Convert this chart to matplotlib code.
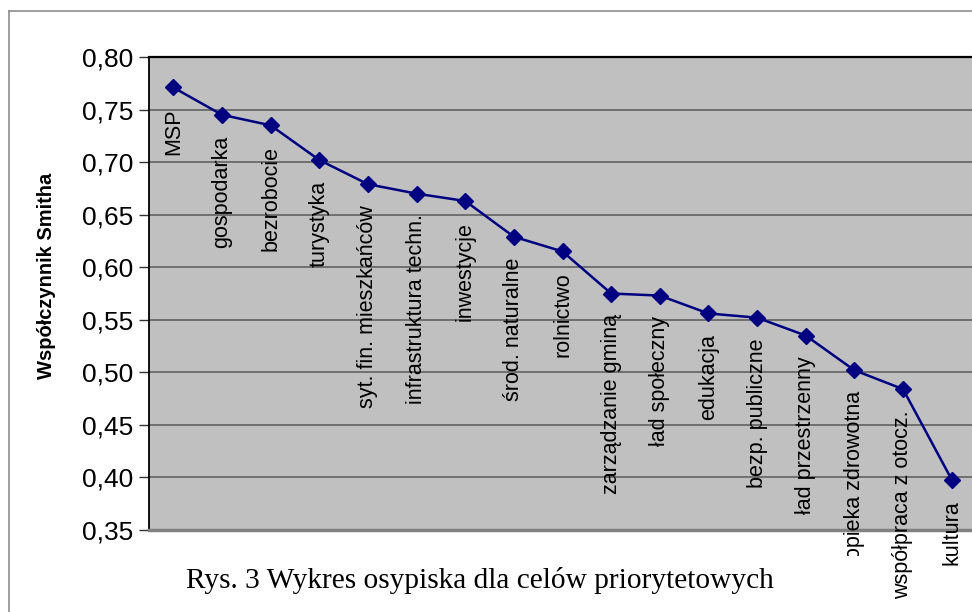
import matplotlib
matplotlib.use("Agg")
import matplotlib.pyplot as plt
from matplotlib.patches import Rectangle
from matplotlib.lines import Line2D
from matplotlib.ticker import FuncFormatter

plt.rcParams['font.family'] = ['Liberation Sans', 'DejaVu Sans']

categories = ["MSP", "gospodarka", "bezrobocie", "turystyka", "syt. fin. mieszkańców",
              "infrastruktura techn.", "inwestycje", "środ. naturalne", "rolnictwo",
              "zarządzanie gminą", "ład społeczny", "edukacja", "bezp. publiczne",
              "ład przestrzenny", "opieka zdrowotna", "współpraca z otocz.", "kultura"]
values = [0.771, 0.745, 0.735, 0.702, 0.679, 0.670, 0.663, 0.629, 0.615,
          0.575, 0.573, 0.556, 0.552, 0.535, 0.502, 0.484, 0.398]
y_ticks = [0.35, 0.40, 0.45, 0.50, 0.55, 0.60, 0.65, 0.70, 0.75, 0.80]
ylabel = "Współczynnik Smitha"
caption = "Rys. 3 Wykres osypiska dla celów priorytetowych"

W, H = 972, 612
fig = plt.figure(figsize=(W / 100, H / 100), dpi=100)
fig.patch.set_facecolor("white")

# outer frame (right/bottom edges fall outside the image)
fig.add_artist(Line2D([9 / W, 9 / W], [0, 1 - 11 / H], transform=fig.transFigure,
                      color="#8c8c8c", lw=1.2))
fig.add_artist(Line2D([9 / W, 1], [1 - 11 / H, 1 - 11 / H], transform=fig.transFigure,
                      color="#8c8c8c", lw=1.2))

left, right, top, bottom = 149, 976, 57, 530
ax = fig.add_axes([left / W, 1 - bottom / H, (right - left) / W, (bottom - top) / H])
ax.set_facecolor("#c0c0c0")
x = list(range(len(categories)))
ax.set_xlim(-0.5, len(categories) - 0.5)
ax.set_ylim(y_ticks[0], y_ticks[-1])
ax.set_yticks(y_ticks)
ax.yaxis.set_major_formatter(FuncFormatter(lambda v, p: f"{v:.2f}".replace(".", ",")))
ax.set_xticks([])
ax.grid(axis="y", color="#5a5a5a", lw=1.1)
ax.set_axisbelow(True)
ax.spines["right"].set_visible(False)
ax.spines["top"].set_color("black")
ax.spines["top"].set_linewidth(1.6)
ax.spines["left"].set_color("black")
ax.spines["left"].set_linewidth(1.3)
ax.spines["bottom"].set_color("#808080")
ax.spines["bottom"].set_linewidth(2.5)
ax.tick_params(axis="y", length=7, width=1, color="#333333", labelsize=19, pad=4)
ax.set_ylabel(ylabel, fontsize=14.5, fontweight="bold")
ax.yaxis.set_label_coords((56 - left) / (right - left), (bottom - 276) / (bottom - top))

ax.plot(x, values, color="#000080", lw=1.8, marker="D", markersize=8,
        markerfacecolor="#000080", markeredgecolor="#000080", zorder=3, clip_on=False)

for xi, (c, v) in enumerate(zip(categories, values)):
    ax.annotate(c, (xi, v), xytext=(0, -15), textcoords="offset points",
                rotation=90, ha="center", va="top", fontsize=15.5,
                annotation_clip=False, zorder=4)

# white caption box (covers part of one label as in the source)
fig.add_artist(Rectangle((150 / W, 0), 720 / W, 1 - 556 / H, transform=fig.transFigure,
                         facecolor="white", edgecolor="none", zorder=5))
fig.text(480 / W, 1 - 581 / H, caption, ha="center", va="center", fontsize=21.2,
         family=["Liberation Serif", "DejaVu Serif"], zorder=6)

fig.savefig("out.png", dpi=100)
